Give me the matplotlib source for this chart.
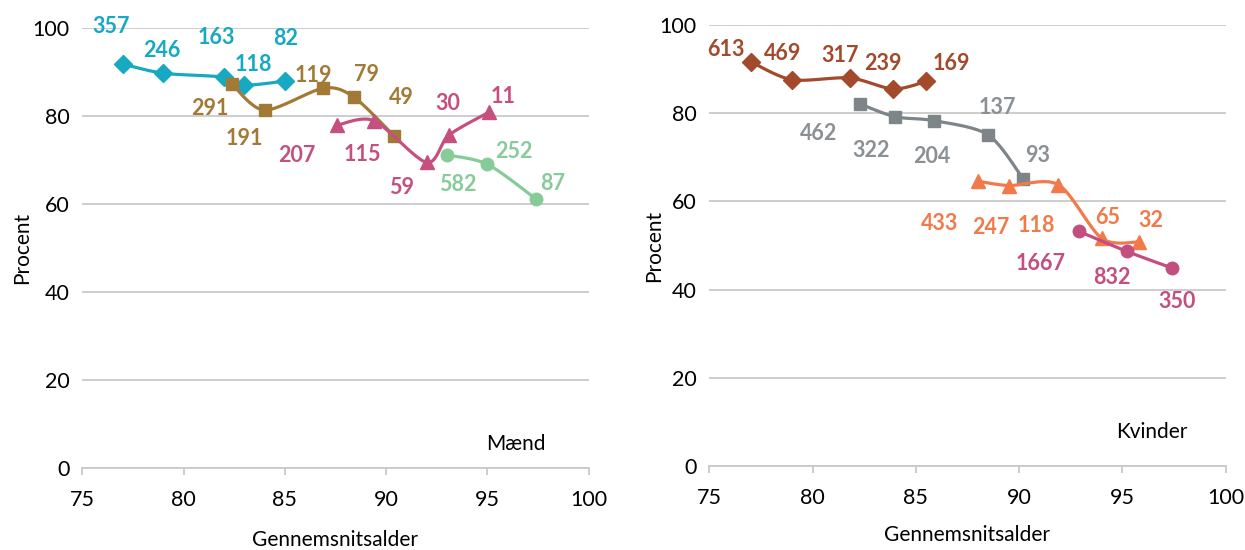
import numpy as np
import matplotlib
matplotlib.use("Agg")
from matplotlib import pyplot as plt

plt.rcParams['font.family'] = ['Lato', 'DejaVu Sans']

# Mænd: average age, percent, number of persons per group
menAge = [
	[77.0, 79.0, 82.0, 83.0, 85.0],
	[82.4, 84.0, 86.9, 88.4, 90.4],
	[87.6, 89.4, 92.0, 93.1, 95.1],
	[93.0, 95.0, 97.4],
]
menPct = [
	[91.9, 89.8, 88.9, 87.1, 88.0],
	[87.3, 81.4, 86.4, 84.4, 75.5],
	[78.0, 79.0, 69.5, 75.7, 81.0],
	[71.2, 69.1, 61.2],
]
menCount = [
	[357, 246, 163, 118, 82],
	[291, 191, 119, 79, 49],
	[207, 115, 59, 30, 11],
	[582, 252, 87],
]

# Kvinder
womenAge = [
	[77.0, 79.0, 81.8, 83.9, 85.5],
	[82.3, 84.0, 85.9, 88.5, 90.2],
	[88.0, 89.5, 91.9, 94.0, 95.8],
	[92.9, 95.2, 97.4],
]
womenPct = [
	[91.7, 87.6, 88.0, 85.5, 87.2],
	[82.1, 79.2, 78.3, 75.1, 65.1],
	[64.6, 63.6, 63.8, 51.6, 50.8],
	[53.2, 48.7, 44.9],
]
womenCount = [
	[613, 469, 317, 239, 169],
	[462, 322, 204, 137, 93],
	[433, 247, 118, 65, 32],
	[1667, 832, 350],
]

menStyle = [('#17A9C2', '#17A9C2', 'D'), ('#A27A36', '#A27A36', 's'),
	('#C5507F', '#C5507F', '^'), ('#86CB98', '#86CB98', 'o')]
womenStyle = [('#A24A2B', '#A24A2B', 'D'), ('#7E8589', '#8A9094', 's'),
	('#F27A4A', '#F27A4A', '^'), ('#C24F80', '#C24F80', 'o')]

# label offsets in pixels (dx right, dy up)
menOffsets = [
	[(-12, 37), (-1, 23), (-8, 40), (9, 21), (1, 43)],
	[(-22, -24), (-20, -28), (-10, 13), (13, 22), (7, 39)],
	[(-41, -30), (-12, -34), (-25, -25), (-1, 32), (14, 15)],
	[(11, -29), (27, 13), (17, 15)],
]
womenOffsets = [
	[(-25, 12), (-9, 26), (-10, 22), (-10, 25), (25, 18)],
	[(-41, -30), (-24, -34), (-3, -36), (9, 27), (14, 23)],
	[(-38, -42), (-18, -42), (-22, -41), (6, 21), (12, 21)],
	[(-38, -32), (-15, -26), (5, -33)],
]


def smooth(x, y, n=20, tension=0.85):
	# Catmull-Rom style curve through the points, like a smoothed line
	x = np.asarray(x, float)
	y = np.asarray(y, float)
	px = np.concatenate([[x[0]], x, [x[-1]]])
	py = np.concatenate([[y[0]], y, [y[-1]]])
	xs, ys = [], []
	t = np.linspace(0, 1, n)
	h00 = 2 * t ** 3 - 3 * t ** 2 + 1
	h10 = t ** 3 - 2 * t ** 2 + t
	h01 = -2 * t ** 3 + 3 * t ** 2
	h11 = t ** 3 - t ** 2
	for i in range(1, len(px) - 2):
		for p, out in ((px, xs), (py, ys)):
			p0, p1, p2, p3 = p[i - 1], p[i], p[i + 1], p[i + 2]
			m1 = tension * 0.5 * (p2 - p0)
			m2 = tension * 0.5 * (p3 - p1)
			out.extend(h00 * p1 + h10 * m1 + h01 * p2 + h11 * m2)
	return xs, ys


def drawPanel(ax, ages, pcts, counts, styles, offsets, title, titlePos):
	for k, (x, y, c, st, off) in enumerate(zip(ages, pcts, counts, styles, offsets)):
		color, labelColor, marker = st
		sx, sy = smooth(x, y)
		ax.plot(sx, sy, color=color, lw=2.3, solid_capstyle='round', zorder=3 + k)
		ax.plot(x, y, linestyle='none', marker=marker, color=color,
			markersize=10 if marker == '^' else 9, zorder=3 + k)
		for xi, yi, ci, (dx, dy) in zip(x, y, c, off):
			ax.annotate(str(ci), (xi, yi), xytext=(dx, dy), textcoords='offset pixels',
				ha='center', va='center', fontsize=15.5, fontweight='bold',
				color=labelColor, zorder=10)

	ax.set_xlim(75, 100)
	ax.set_ylim(0, 100)
	ax.set_xticks(np.arange(75, 101, 5))
	ax.set_yticks(np.arange(0, 101, 20))
	ax.grid(axis='y', color='#C9C9C9', lw=1.3)
	ax.set_axisbelow(True)
	for s in ('top', 'right', 'left'):
		ax.spines[s].set_visible(False)
	ax.spines['bottom'].set_color('#C9C9C9')
	ax.spines['bottom'].set_linewidth(1.3)
	ax.tick_params(axis='x', direction='out', length=5, width=1.3, color='#C9C9C9',
		labelsize=15.5, pad=11)
	ax.tick_params(axis='y', length=0, labelsize=15.5, pad=9)
	ax.set_xlabel('Gennemsnitsalder', fontsize=15)
	ax.set_ylabel('Procent', fontsize=15)
	ax.text(titlePos[0], titlePos[1], title, fontsize=15, ha='center', va='center')


fig = plt.figure(figsize=(12.45, 5.5), dpi=100)
axLeft = fig.add_axes([0.0661, 0.149, 0.4067, 0.7994])
axRight = fig.add_axes([0.5697, 0.1527, 0.4148, 0.8018])

drawPanel(axLeft, menAge, menPct, menCount, menStyle, menOffsets, 'Mænd', (96.4, 5.4))
drawPanel(axRight, womenAge, womenPct, womenCount, womenStyle, womenOffsets, 'Kvinder', (96.4, 7.6))

axLeft.xaxis.set_label_coords(0.5, -0.14)
axLeft.yaxis.set_label_coords(-0.1, 0.5)
axRight.xaxis.set_label_coords(0.5, -0.133)
axRight.yaxis.set_label_coords(-0.088, 0.5)

fig.savefig('out.png', dpi=100)
